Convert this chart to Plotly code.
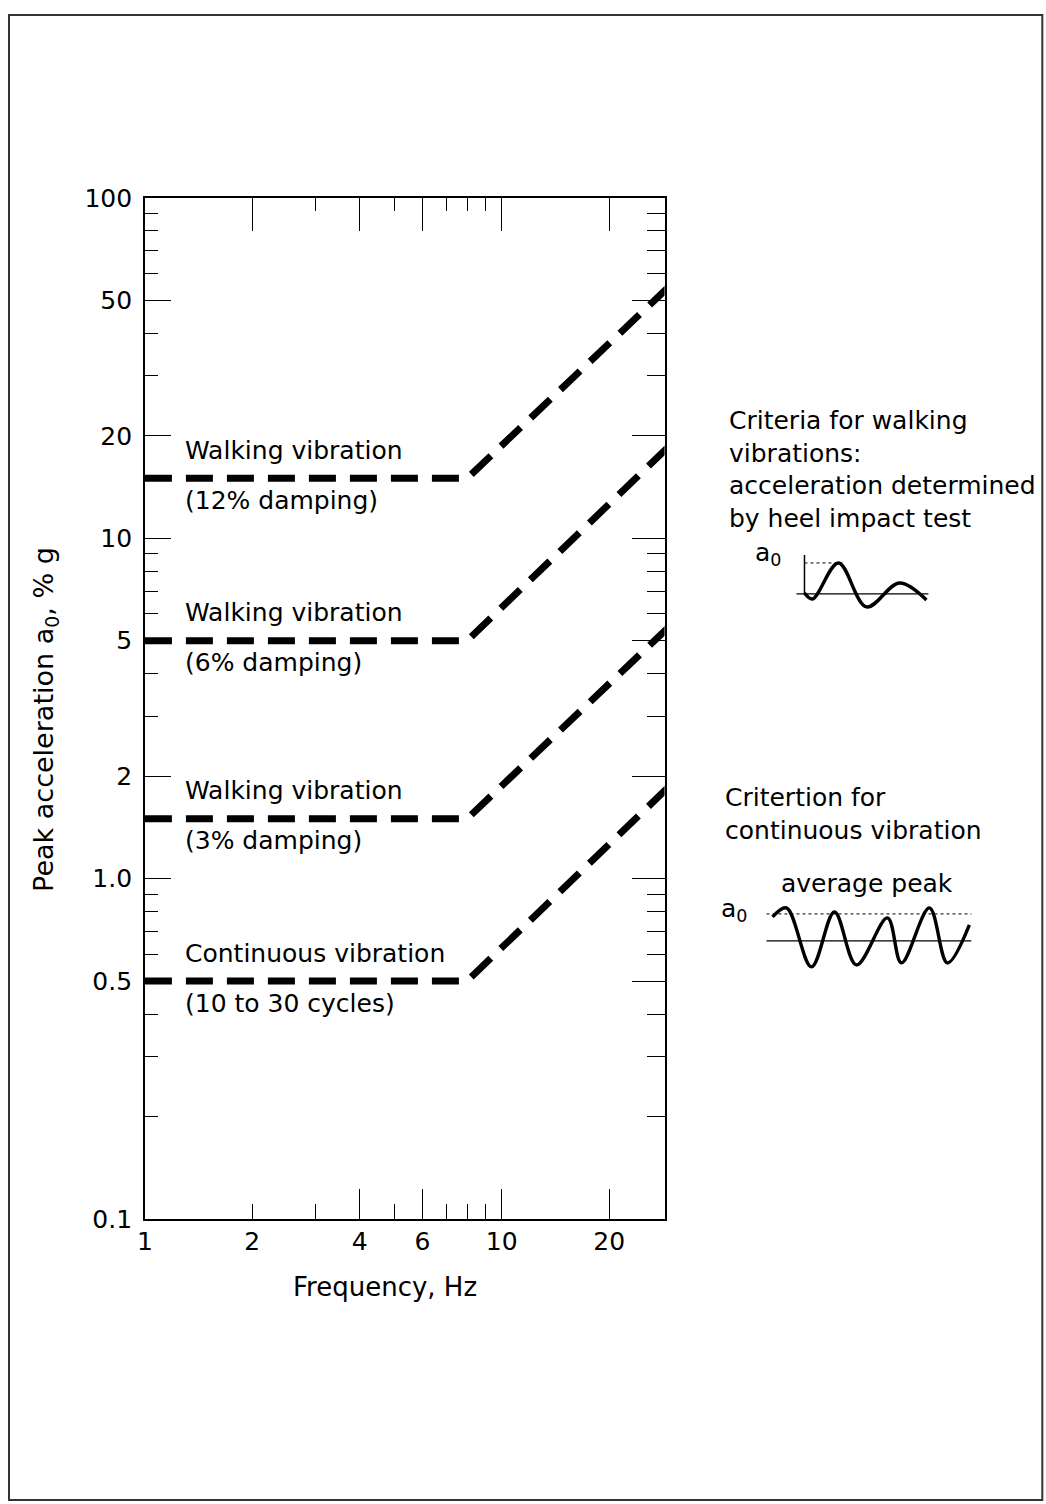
import math
import plotly.graph_objects as go

# ---- data -------------------------------------------------------------
freq_hz = [1, 8, 30]
walk_12 = [15, 15, 56]
walk_6 = [5, 5, 19]
walk_3 = [1.5, 1.5, 5.6]
continuous = [0.5, 0.5, 1.9]

series = [walk_12, walk_6, walk_3, continuous]
label_top = ["Walking vibration", "Walking vibration", "Walking vibration", "Continuous vibration"]
label_bottom = ["(12% damping)", "(6% damping)", "(3% damping)", "(10 to 30 cycles)"]

x_tick_vals = [1, 2, 4, 6, 10, 20]
x_tick_text = ["1", "2", "4", "6", "10", "20"]
y_tick_vals = [0.1, 0.5, 1, 2, 5, 10, 20, 50, 100]
y_tick_text = ["0.1", "0.5", "1.0", "2", "5", "10", "20", "50", "100"]
y_minor_vals = [0.2, 0.3, 0.4, 0.6, 0.7, 0.8, 0.9, 3, 4, 6, 7, 8, 9,
                30, 40, 60, 70, 80, 90]

# ---- page geometry ----------------------------------------------------
# Layout positions below are written in screen pixels of the final page;
# (OX, OY) is where the figure starts on the page and (SX, SY) the scale
# between figure pixels and screen pixels.
W, H = 1046, 1520
OX, OY = 8, 14
SX, SY = 0.993, 0.981
FONT = "DejaVu Sans"
FS = 25
INK = "#000000"


def px(x):
    return (x - OX) / SX / W


def py(y):
    return 1 - (y - OY) / SY / H


X_DOM = [px(145), px(665)]
Y_DOM = [py(1219), py(198)]
X_RANGE = [0, math.log10(28.6)]
Y_RANGE = [-1, 2]

fig = go.Figure()

for vals in series:
    fig.add_trace(go.Scatter(
        x=freq_hz, y=vals, mode="lines",
        line=dict(color="black", width=7, dash="27px,14px"),
        hoverinfo="skip", showlegend=False))

# ---- extra tick-only axes (each needs a placeholder trace to be drawn) --
for xa, ya in [("x2", "y"), ("x3", "y"), ("x4", "y"), ("x5", "y"),
               ("x", "y2"), ("x", "y3"), ("x", "y4")]:
    fig.add_trace(go.Scatter(
        x=[2], y=[1], xaxis=xa, yaxis=ya, mode="markers",
        marker=dict(opacity=0, size=1), hoverinfo="skip", showlegend=False))


# ---- small explanatory sketches (screen-pixel axes) --------------------
def sketch(xs, ys, width=1.5, dash="solid", shape="linear"):
    fig.add_trace(go.Scatter(
        x=xs, y=ys, mode="lines", xaxis="x6", yaxis="y6",
        line=dict(color=INK, width=width, dash=dash, shape=shape, smoothing=1.0),
        hoverinfo="skip", showlegend=False))


# heel impact response
sketch([805, 805], [555, 594], width=1.5)
sketch([805, 843], [563, 563], width=1, dash="dot")
sketch([797, 929], [594, 594], width=1.2)
sketch([805, 813, 839, 867, 900, 927], [593, 599, 563, 607, 583, 600],
       width=3.4, shape="spline")

# continuous response
sketch([767, 972], [914, 914], width=1, dash="dot")
sketch([767, 972], [941, 941], width=1.2)
sketch([773, 787, 812, 835, 857, 888, 902, 930, 948, 970],
       [917, 908, 967, 912, 965, 918, 963, 908, 963, 925],
       width=3.4, shape="spline")

# ---- axes -------------------------------------------------------------
common_x = dict(type="log", range=X_RANGE, showgrid=False, zeroline=False)
common_y = dict(type="log", range=Y_RANGE, showgrid=False, zeroline=False)
tick_only = dict(showticklabels=False, showline=False, ticks="inside",
                 tickcolor="black", tickwidth=1.4, tickmode="array")

fig.update_layout(
    width=W, height=H,
    margin=dict(l=0, r=0, t=0, b=0),
    paper_bgcolor="white", plot_bgcolor="rgba(0,0,0,0)",
    font=dict(family=FONT, size=FS, color=INK),
    showlegend=False,
    xaxis=dict(**common_x, domain=X_DOM, anchor="y",
               showline=True, linecolor="black", linewidth=1.6, mirror=True,
               tickmode="array", tickvals=x_tick_vals, ticktext=x_tick_text,
               ticks="", ticklabelstandoff=-1,
               tickfont=dict(family=FONT, size=FS, color=INK)),
    xaxis2=dict(**common_x, **tick_only, overlaying="x", anchor="y", side="bottom",
                tickvals=[4, 6, 10, 20], ticklen=30),
    xaxis3=dict(**common_x, **tick_only, overlaying="x", anchor="y", side="bottom",
                tickvals=[2, 3, 5, 7, 8, 9], ticklen=15),
    xaxis4=dict(**common_x, **tick_only, overlaying="x", anchor="y", side="top",
                tickvals=[2, 4, 6, 10, 20], ticklen=33),
    xaxis5=dict(**common_x, **tick_only, overlaying="x", anchor="y", side="top",
                tickvals=[3, 5, 7, 8, 9], ticklen=13),
    yaxis=dict(**common_y, domain=Y_DOM, anchor="x",
               showline=True, linecolor="black", linewidth=1.6, mirror=True,
               tickmode="array", tickvals=y_tick_vals, ticktext=y_tick_text,
               ticks="inside", ticklen=26, tickcolor="black", tickwidth=1.4,
               ticklabelstandoff=6,
               tickfont=dict(family=FONT, size=FS, color=INK)),
    yaxis2=dict(**common_y, **tick_only, overlaying="y", anchor="x", side="left",
                tickvals=y_minor_vals, ticklen=13),
    yaxis3=dict(**common_y, **tick_only, overlaying="y", anchor="x", side="right",
                tickvals=[0.5, 1, 2, 5, 10, 20, 50], ticklen=33),
    yaxis4=dict(**common_y, **tick_only, overlaying="y", anchor="x", side="right",
                tickvals=y_minor_vals, ticklen=18),
    xaxis6=dict(domain=[0, 1], range=[OX, OX + SX * W], anchor="y6", visible=False),
    yaxis6=dict(domain=[0, 1], range=[OY + SY * H, OY], anchor="x6", visible=False),
)

# ---- text -------------------------------------------------------------
ann = []
for vals, top, bottom in zip(series, label_top, label_bottom):
    level = math.log10(vals[0])
    ann.append(dict(x=px(183), xref="paper", y=level, yref="y", yshift=28,
                    text=top, showarrow=False, xanchor="left", yanchor="middle"))
    ann.append(dict(x=px(183), xref="paper", y=level, yref="y", yshift=-22,
                    text=bottom, showarrow=False, xanchor="left", yanchor="middle"))

ann += [
    dict(x=px(46), y=py(719), xref="paper", yref="paper", textangle=-90,
         text="Peak acceleration a<sub>0</sub>, % g", showarrow=False,
         xanchor="center", yanchor="middle", font=dict(size=27)),
    dict(x=px(385), y=py(1287), xref="paper", yref="paper",
         text="Frequency, Hz", showarrow=False, xanchor="center", yanchor="middle",
         font=dict(size=26)),
    dict(x=px(727), y=py(404), xref="paper", yref="paper", align="left",
         text="Criteria for walking<br>vibrations:<br>acceleration determined<br>by heel impact test",
         showarrow=False, xanchor="left", yanchor="top"),
    dict(x=px(753), y=py(554), xref="paper", yref="paper",
         text="a<sub>0</sub>", showarrow=False, xanchor="left", yanchor="middle"),
    dict(x=px(723), y=py(781), xref="paper", yref="paper", align="left",
         text="Critertion for<br>continuous vibration",
         showarrow=False, xanchor="left", yanchor="top"),
    dict(x=px(868), y=py(884), xref="paper", yref="paper",
         text="average peak", showarrow=False, xanchor="center", yanchor="middle"),
    dict(x=px(719), y=py(910), xref="paper", yref="paper",
         text="a<sub>0</sub>", showarrow=False, xanchor="left", yanchor="middle"),
]
fig.update_layout(annotations=ann)

# outer frame of the page
fig.add_shape(type="rect", xref="paper", yref="paper",
              x0=1 / W, x1=px(1043), y0=py(1500), y1=1 - 1 / H,
              line=dict(color="#333333", width=2))

fig.write_html(
    "out.html",
    post_script="document.body.style.margin='0';document.body.style.overflow='hidden';",
)
